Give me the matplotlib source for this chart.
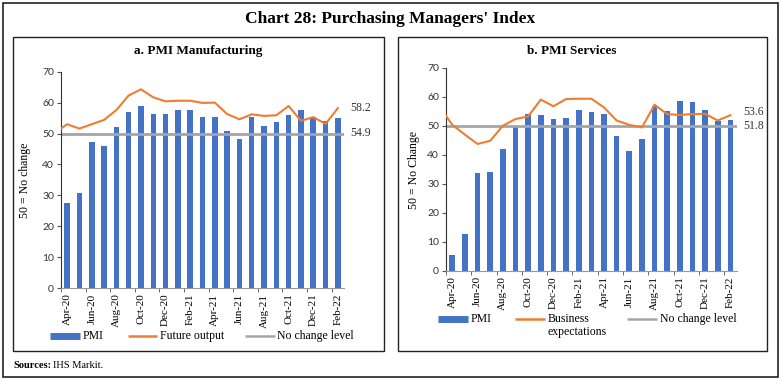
import matplotlib.pyplot as plt
import numpy as np
from matplotlib.patches import Rectangle
from matplotlib.lines import Line2D

# DATA
months = ['Apr-20', 'May-20', 'Jun-20', 'Jul-20', 'Aug-20', 'Sep-20', 'Oct-20', 'Nov-20',
          'Dec-20', 'Jan-21', 'Feb-21', 'Mar-21', 'Apr-21', 'May-21', 'Jun-21', 'Jul-21',
          'Aug-21', 'Sep-21', 'Oct-21', 'Nov-21', 'Dec-21', 'Jan-22', 'Feb-22']
pmi_mfg = [27.4, 30.8, 47.2, 46.0, 52.0, 56.8, 58.9, 56.3, 56.4, 57.7, 57.5, 55.4,
           55.5, 50.8, 48.1, 55.3, 52.3, 53.7, 55.9, 57.6, 55.5, 54.0, 54.9]
# line series start one month earlier (Mar-20), cut at the left axis edge
future_output = [50.2, 53.0, 51.6, 53.0, 54.4, 57.6, 62.3, 64.3, 61.7, 60.4, 60.6, 60.6,
                 59.9, 60.0, 56.3, 54.6, 56.2, 55.7, 55.9, 58.9, 54.1, 55.3, 53.1, 58.2]
pmi_serv = [5.4, 12.6, 33.7, 34.2, 41.8, 49.8, 54.1, 53.7, 52.3, 52.8, 55.3, 54.6,
            54.0, 46.4, 41.2, 45.4, 56.7, 55.2, 58.4, 58.1, 55.5, 51.5, 51.8]
business_exp = [56.5, 50.3, 46.9, 43.7, 44.8, 50.0, 52.3, 53.2, 59.0, 56.7, 59.2, 59.3,
                59.3, 56.3, 51.8, 50.3, 49.4, 57.2, 54.0, 53.7, 54.0, 54.1, 51.8, 53.6]
no_change = 50

BLUE = '#4472C4'
ORANGE = '#ED7D31'
GRAY = '#A5A5A5'
W, H = 781, 381

fig = plt.figure(figsize=(W / 100, H / 100), dpi=100)


def px(x, y):
    return x / W, 1 - y / H


def box(x0, y0, x1, y1, lw=1.0):
    fig.patches.append(Rectangle(px(x0, y1), (x1 - x0) / W, (y1 - y0) / H,
                                 transform=fig.transFigure, fill=False,
                                 edgecolor='#222222', lw=lw))


def legend_line(x0, x1, y, color, lw):
    fig.lines.append(Line2D([x0 / W, x1 / W], [1 - y / H, 1 - y / H],
                            transform=fig.transFigure, color=color, lw=lw,
                            solid_capstyle='butt'))


box(3, 3, 778, 377, lw=1.2)
box(13, 37, 384, 351)
box(398, 37, 767, 351)

fig.text(*px(390, 19), "Chart 28: Purchasing Managers' Index", ha='center', va='center',
         family='Liberation Serif', fontweight='bold', fontsize=12.5)
fig.text(*px(13, 366), 'Sources:', ha='left', va='center', family='Liberation Serif',
         fontweight='bold', fontsize=7.5)
fig.text(*px(53, 366), 'IHS Markit.', ha='left', va='center', family='Liberation Serif',
         fontsize=7.5)


def panel(rect, title, title_xy, bars, line, ylab, ylab_xy, line_lab_dy, bar_lab_dy):
    ax = fig.add_axes(rect)
    x = np.arange(len(months))
    ax.bar(x, bars, width=0.45, color=BLUE, zorder=2)
    xl = np.arange(-1, len(months))
    ax.plot(xl, line, color=ORANGE, lw=1.5, zorder=3)
    ax.axhline(no_change, color=GRAY, lw=2, zorder=2.5)
    ax.set_xlim(-0.5, len(months) - 0.5)
    ax.set_ylim(0, 70)
    ax.set_yticks(range(0, 71, 10))
    ax.set_xticks(x[::2])
    ax.set_xticklabels(months[::2], rotation=90, family='Liberation Serif', fontsize=8)
    ax.set_xticks(np.arange(-0.5, len(months), 2), minor=True)
    ax.tick_params(axis='x', which='major', length=0, pad=4)
    ax.tick_params(axis='x', which='minor', length=3, color='#555555')
    ax.tick_params(axis='y', length=3, pad=2, labelsize=7.5, color='#555555',
                   labelcolor='#333333')
    for lab in ax.get_yticklabels():
        lab.set_family('Lato')
    for s in ['top', 'right']:
        ax.spines[s].set_visible(False)
    ax.spines['left'].set_color('#333333')
    ax.spines['bottom'].set_color('#999999')
    ax.annotate(f'{line[-1]:.1f}', (x[-1], line[-1]), xytext=(9, line_lab_dy),
                textcoords='offset points', family='Liberation Serif', fontsize=8.5,
                va='center', ha='left', color='#333333')
    ax.annotate(f'{bars[-1]:.1f}', (x[-1], no_change), xytext=(9, bar_lab_dy),
                textcoords='offset points', family='Liberation Serif', fontsize=8.5,
                va='center', ha='left', color='#333333')
    fig.text(*px(*title_xy), title, ha='center', va='center', family='Liberation Serif',
             fontweight='bold', fontsize=9.5)
    fig.text(*px(*ylab_xy), ylab, ha='center', va='center', rotation=90,
             family='Liberation Serif', fontsize=8.5)
    return ax


panel([61 / W, 1 - 288 / H, 283 / W, 216.3 / H], 'a. PMI Manufacturing', (198, 51),
      pmi_mfg, future_output, '50 = No change', (25, 180), 0, 0)
panel([446 / W, 1 - 270.7 / H, 290.7 / W, 203 / H], 'b. PMI Services', (572, 51),
      pmi_serv, business_exp, '50 = No Change', (414, 170), 2, 0)

# legends
lkw = dict(family='Liberation Serif', fontsize=8.5, va='center', ha='left')
legend_line(50, 80, 336, BLUE, 5)
fig.text(*px(83, 336), 'PMI', **lkw)
legend_line(128, 157, 336, ORANGE, 1.8)
fig.text(*px(160, 336), 'Future output', **lkw)
legend_line(245, 275, 336, GRAY, 1.8)
fig.text(*px(277, 336), 'No change level', **lkw)

legend_line(438, 468, 319, BLUE, 5)
fig.text(*px(471, 319), 'PMI', **lkw)
legend_line(515, 545, 319, ORANGE, 1.8)
fig.text(*px(548, 319), 'Business', **lkw)
fig.text(*px(548, 332), 'expectations', **lkw)
legend_line(627, 657, 319, GRAY, 1.8)
fig.text(*px(660, 319), 'No change level', **lkw)

fig.savefig('out.png', dpi=100, facecolor='white')
